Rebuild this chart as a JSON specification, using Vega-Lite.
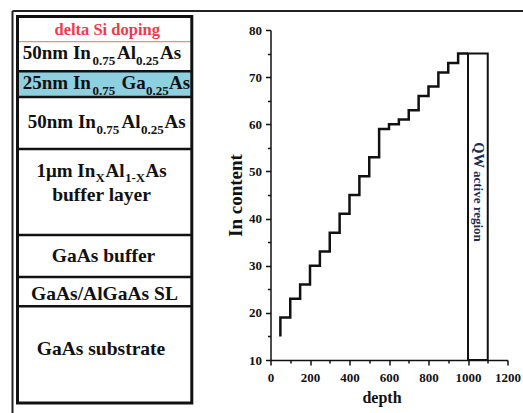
{
  "$schema": "https://vega.github.io/schema/vega-lite/v6.json",
  "padding": {"left": 11, "top": 10, "right": 0, "bottom": 0},
  "bounds": "flush",
  "spacing": 78.5,
  "config": {"font": "Liberation Serif", "view": {"stroke": null}},
  "hconcat": [
    {
      "width": 175,
      "height": 374,
      "layer": [
        {
          "data": {"values": [
            {"layer": "delta Si doping", "top": 16.5, "bottom": 41.7},
            {"layer": "50nm InAlAs upper", "top": 41.7, "bottom": 71.3},
            {"layer": "25nm InGaAs", "top": 71.3, "bottom": 97},
            {"layer": "50nm InAlAs lower", "top": 97, "bottom": 149},
            {"layer": "1um InAlAs buffer", "top": 149, "bottom": 235},
            {"layer": "GaAs buffer", "top": 235, "bottom": 277},
            {"layer": "GaAs/AlGaAs SL", "top": 277, "bottom": 306.3},
            {"layer": "GaAs substrate", "top": 306.3, "bottom": 403}
          ]},
          "layer": [
            {
              "mark": {"type": "rect"},
              "encoding": {
                "x": {"datum": 17, "type": "quantitative", "scale": {"domain": [16.5, 191.5], "nice": false, "zero": false}, "axis": null},
                "x2": {"datum": 191.3},
                "y": {"field": "top", "type": "quantitative", "scale": {"domain": [30, 404], "reverse": true, "nice": false, "zero": false}, "axis": null},
                "y2": {"field": "bottom"},
                "color": {"condition": {"test": "datum.layer === '25nm InGaAs'", "value": "#8ecfe0"}, "value": "#ffffff"}
              }
            },
            {
              "transform": [{"filter": "datum.layer !== 'GaAs substrate'"}],
              "mark": {"type": "rule"},
              "encoding": {
                "x": {"datum": 17, "type": "quantitative"},
                "x2": {"datum": 191.3},
                "y": {"field": "bottom", "type": "quantitative"},
                "color": {"condition": {"test": "datum.layer === 'delta Si doping'", "value": "#f08a8a"}, "value": "#111111"},
                "strokeWidth": {"condition": {"test": "datum.layer === 'delta Si doping'", "value": 1.3}, "value": 2.6}
              }
            }
          ]
        },
        {
          "data": {"values": [{"part": "box"}]},
          "mark": {"type": "rect", "filled": false, "color": "#111111", "strokeWidth": 3},
          "encoding": {
            "x": {"datum": 17, "type": "quantitative"},
            "x2": {"datum": 191.3},
            "y": {"datum": 16.5, "type": "quantitative"},
            "y2": {"datum": 403}
          }
        },
        {
          "data": {"values": [{"part": "frame"}]},
          "mark": {"type": "rule", "color": "#222222", "strokeWidth": 2},
          "encoding": {
            "x": {"datum": 12, "type": "quantitative"},
            "x2": {"datum": 523},
            "y": {"datum": 11, "type": "quantitative"}
          }
        },
        {
          "data": {"values": [{"part": "frame"}]},
          "mark": {"type": "rule", "color": "#222222", "strokeWidth": 2},
          "encoding": {
            "x": {"datum": 12, "type": "quantitative"},
            "y": {"datum": 11, "type": "quantitative"},
            "y2": {"datum": 413}
          }
        },
        {
          "data": {"values": [
            {"kind": "red", "text": "delta Si doping", "x": 106.7, "y": 35},
            {"kind": "main", "text": "50nm In", "x": 22.3, "y": 59.3},
            {"kind": "sub", "text": "0.75", "x": 92, "y": 65},
            {"kind": "main", "text": "Al", "x": 116.5, "y": 59.3},
            {"kind": "sub", "text": "0.25", "x": 135.5, "y": 65},
            {"kind": "main", "text": "As", "x": 159.5, "y": 59.3},
            {"kind": "main", "text": "25nm In", "x": 22.3, "y": 89.3},
            {"kind": "sub", "text": "0.75", "x": 92, "y": 94.5},
            {"kind": "main", "text": "Ga", "x": 121, "y": 89.3},
            {"kind": "sub", "text": "0.25", "x": 145.5, "y": 94.5},
            {"kind": "main", "text": "As", "x": 168.5, "y": 89.3},
            {"kind": "main", "text": "50nm In", "x": 27.3, "y": 128.3},
            {"kind": "sub", "text": "0.75", "x": 96, "y": 134},
            {"kind": "main", "text": "Al", "x": 121, "y": 128.3},
            {"kind": "sub", "text": "0.25", "x": 140.5, "y": 134},
            {"kind": "main", "text": "As", "x": 164, "y": 128.3},
            {"kind": "main", "text": "1μm In", "x": 36, "y": 176.7},
            {"kind": "sub", "text": "X", "x": 95, "y": 181.5},
            {"kind": "main", "text": "Al", "x": 105, "y": 176.7},
            {"kind": "sub", "text": "1-X", "x": 124.5, "y": 181.5},
            {"kind": "main", "text": "As", "x": 145, "y": 176.7},
            {"kind": "center", "text": "buffer layer", "x": 101, "y": 201},
            {"kind": "center", "text": "GaAs buffer", "x": 103, "y": 262},
            {"kind": "center", "text": "GaAs/AlGaAs SL", "x": 104, "y": 300},
            {"kind": "center", "text": "GaAs substrate", "x": 100.5, "y": 355}
          ]},
          "layer": [
            {
              "transform": [{"filter": "datum.kind === 'main'"}],
              "mark": {"type": "text", "align": "left", "baseline": "alphabetic", "fontSize": 19, "fontWeight": "bold", "font": "Liberation Serif", "color": "#111111"},
              "encoding": {
                "x": {"field": "x", "type": "quantitative"},
                "y": {"field": "y", "type": "quantitative"},
                "text": {"field": "text"}
              }
            },
            {
              "transform": [{"filter": "datum.kind === 'sub'"}],
              "mark": {"type": "text", "align": "left", "baseline": "alphabetic", "fontSize": 13, "fontWeight": "bold", "font": "Liberation Serif", "color": "#111111"},
              "encoding": {
                "x": {"field": "x", "type": "quantitative"},
                "y": {"field": "y", "type": "quantitative"},
                "text": {"field": "text"}
              }
            },
            {
              "transform": [{"filter": "datum.kind === 'center'"}],
              "mark": {"type": "text", "align": "center", "baseline": "alphabetic", "fontSize": 19.5, "fontWeight": "bold", "font": "Liberation Serif", "color": "#111111"},
              "encoding": {
                "x": {"field": "x", "type": "quantitative"},
                "y": {"field": "y", "type": "quantitative"},
                "text": {"field": "text"}
              }
            },
            {
              "transform": [{"filter": "datum.kind === 'red'"}],
              "mark": {"type": "text", "align": "center", "baseline": "alphabetic", "fontSize": 16.5, "fontWeight": "bold", "font": "Liberation Serif", "color": "#f03a48"},
              "encoding": {
                "x": {"field": "x", "type": "quantitative"},
                "y": {"field": "y", "type": "quantitative"},
                "text": {"field": "text"}
              }
            }
          ]
        }
      ]
    },
    {
      "width": 237,
      "height": 330,
      "layer": [
        {
          "data": {"values": [
            {"depth": 50, "content": 15},
            {"depth": 50, "content": 19},
            {"depth": 100, "content": 23},
            {"depth": 150, "content": 26},
            {"depth": 200, "content": 30},
            {"depth": 250, "content": 33},
            {"depth": 300, "content": 37},
            {"depth": 350, "content": 41},
            {"depth": 400, "content": 45},
            {"depth": 450, "content": 49},
            {"depth": 500, "content": 53},
            {"depth": 550, "content": 59},
            {"depth": 600, "content": 60},
            {"depth": 650, "content": 61},
            {"depth": 700, "content": 63},
            {"depth": 750, "content": 66},
            {"depth": 800, "content": 68},
            {"depth": 850, "content": 71},
            {"depth": 900, "content": 73},
            {"depth": 950, "content": 75},
            {"depth": 1000, "content": 75}
          ]},
          "mark": {"type": "line", "interpolate": "step-after", "color": "#111111", "strokeWidth": 2.5},
          "encoding": {
            "x": {
              "field": "depth", "type": "quantitative",
              "scale": {"domain": [0, 1200], "nice": false, "zero": false},
              "axis": {
                "values": [0, 100, 200, 300, 400, 500, 600, 700, 800, 900, 1000, 1100, 1200],
                "tickCount": 40,
                "format": "d",
                "labelExpr": "datum.value % 200 === 0 ? datum.label : ''",
                "tickSize": {"condition": {"test": "datum.value % 200 === 0", "value": 5}, "value": 3},
                "title": "depth",
                "titleX": 111,
                "grid": false,
                "domainColor": "#111111", "domainWidth": 1.5,
                "tickColor": "#111111", "tickWidth": 1.5,
                "labelFont": "Liberation Serif", "labelFontWeight": "bold", "labelFontSize": 13, "labelColor": "#111111",
                "labelPadding": 6, "labelFlush": false, "labelOverlap": false,
                "titleFont": "Liberation Serif", "titleFontSize": 16, "titleFontWeight": "bold", "titleColor": "#111111",
                "titlePadding": 5
              }
            },
            "y": {
              "field": "content", "type": "quantitative",
              "scale": {"domain": [10, 80], "nice": false, "zero": false},
              "axis": {
                "values": [10, 15, 20, 25, 30, 35, 40, 45, 50, 55, 60, 65, 70, 75, 80],
                "tickCount": 40,
                "labelExpr": "datum.value % 10 === 0 ? datum.label : ''",
                "tickSize": {"condition": {"test": "datum.value % 10 === 0", "value": 5}, "value": 3},
                "title": "In content",
                "grid": false,
                "domainColor": "#111111", "domainWidth": 1.5,
                "tickColor": "#111111", "tickWidth": 1.5,
                "labelFont": "Liberation Serif", "labelFontWeight": "bold", "labelFontSize": 13, "labelColor": "#111111",
                "labelPadding": 4, "labelFlush": false, "labelOverlap": false,
                "titleFont": "Liberation Serif", "titleFontSize": 19, "titleFontWeight": "bold", "titleColor": "#111111",
                "titlePadding": 3
              }
            },
            "order": {"field": "content", "type": "quantitative"}
          }
        },
        {
          "data": {"values": [{"region": "QW active region", "start": 1000, "end": 1100, "low": 10, "high": 75}]},
          "mark": {"type": "rect", "filled": false, "color": "#111111", "strokeWidth": 2},
          "encoding": {
            "x": {"field": "start", "type": "quantitative"},
            "x2": {"field": "end"},
            "y": {"field": "low", "type": "quantitative"},
            "y2": {"field": "high"}
          }
        },
        {
          "data": {"values": [
            {"label": "QW", "depth": 1050, "content": 56.2},
            {"label": "active region", "depth": 1050, "content": 50.1}
          ]},
          "mark": {"type": "text", "angle": 90, "align": "left", "baseline": "middle", "fontWeight": "bold", "font": "Liberation Serif", "color": "#1d2b4c"},
          "encoding": {
            "x": {"field": "depth", "type": "quantitative"},
            "y": {"field": "content", "type": "quantitative"},
            "text": {"field": "label"},
            "size": {"condition": {"test": "datum.label === 'QW'", "value": 14.5}, "value": 13}
          }
        }
      ]
    }
  ]
}
